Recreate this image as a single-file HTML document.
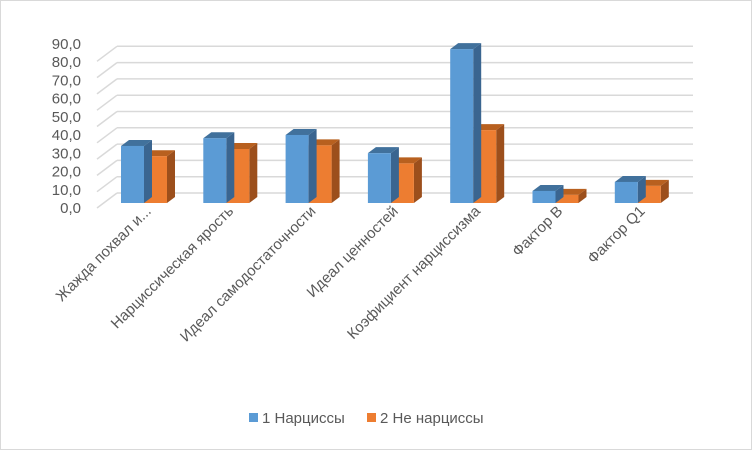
<!DOCTYPE html>
<html><head><meta charset="utf-8"><style>
body{margin:0;background:#fff}
svg{display:block;font-family:"Liberation Sans","DejaVu Sans",sans-serif}
</style></head><body>
<svg id="c" width="752" height="450">
<rect x="0.5" y="0.5" width="751" height="449" fill="#fff" stroke="#d9d9d9"/>
<g id="grid"></g><g id="bars"></g><g id="labels"></g>
<g>
<rect x="249" y="413" width="9" height="9" fill="#5b9bd5"/>
<text x="262" y="423" font-size="15" fill="#595959">1 Нарциссы</text>
<rect x="367" y="413" width="9" height="9" fill="#ed7d31"/>
<text x="380" y="423" font-size="15" fill="#595959">2 Не нарциссы</text>
</g>
</svg>
<script>
const categories=["Жажда похвал и...","Нарциссическая ярость","Идеал самодостаточности","Идеал ценностей","Коэфициент нарциссизма","Фактор В","Фактор Q1"];
const series1=[31.7,36,37.8,27.7,85.5,6.7,11.7];
const series2=[26,30,32,22,40.5,4.5,9.5];
const yTicks=[0,10,20,30,40,50,60,70,80,90];
const NS="http://www.w3.org/2000/svg";
function mk(p,t,a){const e=document.createElementNS(NS,t);for(const k in a)e.setAttribute(k,a[k]);p.appendChild(e);return e;}
const base=203, pxPer=1.8;
function y(v){return base-v*pxPer;}
function gx(i){return 121+i*82.3;}
function labelY(v){return 208-v*1.822;}
function backY(v){return 193-v*1.63;}
const grid=document.getElementById('grid');
yTicks.forEach(t=>{
  const g=mk(grid,'g',{});
  
  
  mk(g,'line',{x1:117,x2:693,y1:backY(t),y2:backY(t),stroke:'#d9d9d9','stroke-width':1.5});
  mk(g,'line',{x1:97,x2:117,y1:backY(t)+15,y2:backY(t),stroke:'#d9d9d9','stroke-width':1.5});
  const tx=mk(g,'text',{x:81,y:labelY(t)+5,'font-size':15,fill:'#595959','text-anchor':'end'});
  tx.textContent=t.toFixed(1).replace('.',',');
  
  
});
const bars=document.getElementById('bars');
const W=23,D=8,H=6;
function bar(x,v,c,s,t,name){
  const g=mk(bars,'g',{});
  
  
  const top=y(v);
  mk(g,'polygon',{points:`${x+W},${top} ${x+W+D},${top-H} ${x+W+D},${base-H} ${x+W},${base}`,fill:s});
  mk(g,'polygon',{points:`${x},${top} ${x+D},${top-H} ${x+W+D},${top-H} ${x+W},${top}`,fill:t});
  mk(g,'rect',{x:x,y:top,width:W,height:base-top,fill:c});
}
categories.forEach((c,i)=>{
  const x=gx(i);
  bar(x+W,series2[i],'#ed7d31','#9c4f1c','#b8601f','bar-2-'+i);
  bar(x,series1[i],'#5b9bd5','#3a6590','#41719c','bar-1-'+i);
  const cx=x+W+8,cy=212;
  const tx=mk(document.getElementById('labels'),'text',{x:cx,y:cy,'font-size':15,fill:'#595959','text-anchor':'end',transform:`rotate(-45 ${cx} ${cy})`});
  tx.textContent=c;
  
  
});
</script>
</body></html>
